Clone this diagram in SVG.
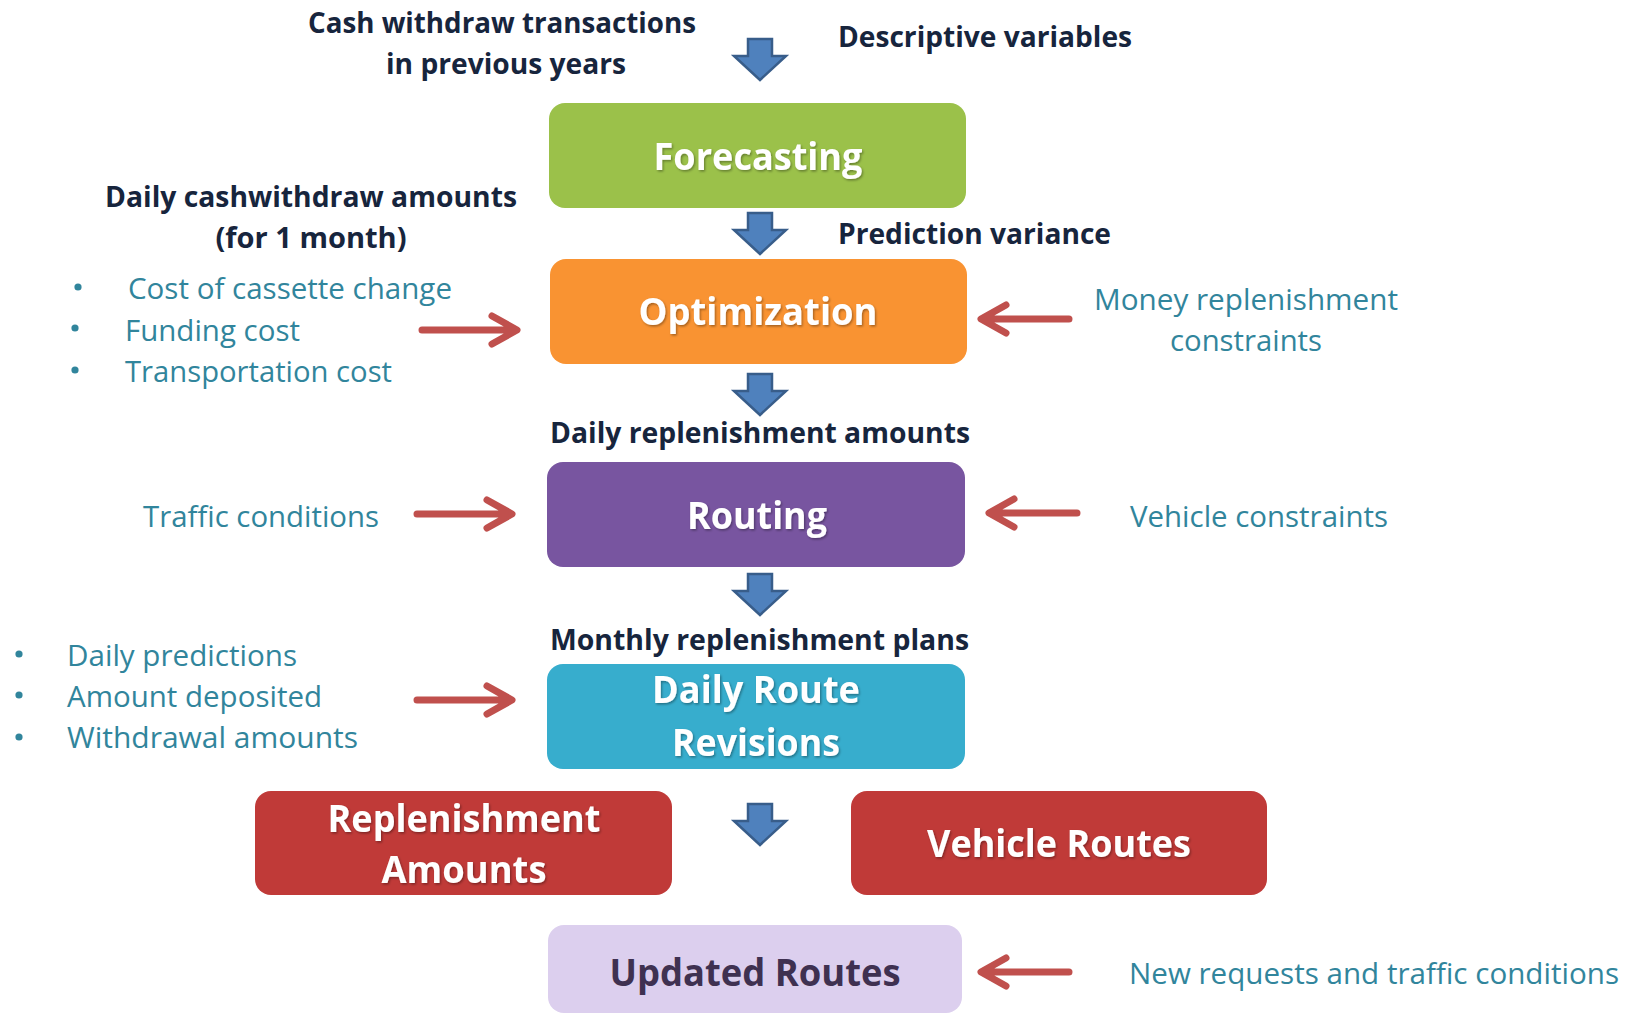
<svg xmlns="http://www.w3.org/2000/svg" width="1627" height="1015" viewBox="0 0 1627 1015">
  <defs>
    <filter id="txtShadow" x="-10%" y="-20%" width="120%" height="150%">
      <feDropShadow dx="1.2" dy="1.5" stdDeviation="0.8" flood-color="#000" flood-opacity="0.35"/>
    </filter>
    <path id="downArrow" d="M-12 0 H12 V17 H26 L0 41 L-26 17 H-12 Z"/>
  </defs>
  <style>
    .box { stroke: none; }
    .boxLabel { font-family: "Open Sans", "Liberation Sans", sans-serif; font-weight: 700; font-size: 38px; fill: #ffffff; text-anchor: middle; filter: url(#txtShadow); }
    .navy { font-family: "Open Sans", "Liberation Sans", sans-serif; font-weight: 700; font-size: 28px; fill: #17253d; }
    .teal { font-family: "Open Sans", "Liberation Sans", sans-serif; font-weight: 400; font-size: 28.5px; fill: #31859c; }
    .dot { fill: #31859c; }
    .blue { fill: #4f81bd; stroke: #385d8a; stroke-width: 2.5; stroke-linejoin: miter; }
    .red { fill: none; stroke: #c0504d; stroke-width: 7; stroke-linecap: round; stroke-linejoin: round; }
  </style>

  <rect width="1627" height="1015" fill="#ffffff"/>

  <!-- input and output annotations -->
  <g id="label-history">
    <text class="navy" x="502" y="33" text-anchor="middle" textLength="388" lengthAdjust="spacingAndGlyphs">Cash withdraw transactions</text>
    <text class="navy" x="506" y="74" text-anchor="middle" textLength="240" lengthAdjust="spacingAndGlyphs">in previous years</text>
  </g>
  <g id="label-descriptive">
    <text class="navy" x="838" y="47" textLength="294" lengthAdjust="spacingAndGlyphs">Descriptive variables</text>
  </g>
  <g id="label-daily-withdraw">
    <text class="navy" x="311" y="207" text-anchor="middle" textLength="412" lengthAdjust="spacingAndGlyphs">Daily cashwithdraw amounts</text>
    <text class="navy" x="311" y="248" text-anchor="middle" textLength="191" lengthAdjust="spacingAndGlyphs">(for 1 month)</text>
  </g>
  <g id="label-variance">
    <text class="navy" x="838" y="244" textLength="273" lengthAdjust="spacingAndGlyphs">Prediction variance</text>
  </g>
  <g id="label-costs">
    <circle class="dot" cx="78" cy="287" r="3.6"/>
    <circle class="dot" cx="75" cy="328" r="3.6"/>
    <circle class="dot" cx="75" cy="370" r="3.6"/>
    <text class="teal" x="128" y="299" textLength="324" lengthAdjust="spacingAndGlyphs">Cost of cassette change</text>
    <text class="teal" x="125" y="341" textLength="175" lengthAdjust="spacingAndGlyphs">Funding cost</text>
    <text class="teal" x="125" y="382" textLength="267" lengthAdjust="spacingAndGlyphs">Transportation cost</text>
  </g>
  <g id="label-money-constraints">
    <text class="teal" x="1246" y="310" text-anchor="middle" textLength="304" lengthAdjust="spacingAndGlyphs">Money replenishment</text>
    <text class="teal" x="1246" y="351" text-anchor="middle" textLength="152" lengthAdjust="spacingAndGlyphs">constraints</text>
  </g>
  <g id="label-daily-replenishment">
    <text class="navy" x="550" y="443" textLength="420" lengthAdjust="spacingAndGlyphs">Daily replenishment amounts</text>
  </g>
  <g id="label-traffic">
    <text class="teal" x="143" y="527" textLength="236" lengthAdjust="spacingAndGlyphs">Traffic conditions</text>
  </g>
  <g id="label-vehicle-constraints">
    <text class="teal" x="1130" y="527" textLength="258" lengthAdjust="spacingAndGlyphs">Vehicle constraints</text>
  </g>
  <g id="label-monthly-plans">
    <text class="navy" x="550" y="650" textLength="419" lengthAdjust="spacingAndGlyphs">Monthly replenishment plans</text>
  </g>
  <g id="label-revision-inputs">
    <circle class="dot" cx="19" cy="654" r="3.6"/>
    <circle class="dot" cx="19" cy="695" r="3.6"/>
    <circle class="dot" cx="19" cy="737" r="3.6"/>
    <text class="teal" x="67" y="666" textLength="230" lengthAdjust="spacingAndGlyphs">Daily predictions</text>
    <text class="teal" x="67" y="707" textLength="255" lengthAdjust="spacingAndGlyphs">Amount deposited</text>
    <text class="teal" x="67" y="748" textLength="291" lengthAdjust="spacingAndGlyphs">Withdrawal amounts</text>
  </g>
  <g id="label-new-requests">
    <text class="teal" x="1129" y="984" textLength="490" lengthAdjust="spacingAndGlyphs">New requests and traffic conditions</text>
  </g>

  <!-- process stages -->
  <g id="forecasting">
    <rect class="box" x="549" y="103" width="417" height="105" rx="16" fill="#9bc14a"/>
    <text class="boxLabel" x="758" y="170" textLength="209" lengthAdjust="spacingAndGlyphs">Forecasting</text>
  </g>
  <g id="optimization">
    <rect class="box" x="550" y="259" width="417" height="105" rx="16" fill="#f99332"/>
    <text class="boxLabel" x="758" y="325" textLength="239" lengthAdjust="spacingAndGlyphs">Optimization</text>
  </g>
  <g id="routing">
    <rect class="box" x="547" y="462" width="418" height="105" rx="16" fill="#7855a0"/>
    <text class="boxLabel" x="757" y="529" textLength="140" lengthAdjust="spacingAndGlyphs">Routing</text>
  </g>
  <g id="daily-route-revisions">
    <rect class="box" x="547" y="664" width="418" height="105" rx="16" fill="#37adcd"/>
    <text class="boxLabel" x="756" y="703" textLength="208" lengthAdjust="spacingAndGlyphs">Daily Route</text>
    <text class="boxLabel" x="756" y="756" textLength="168" lengthAdjust="spacingAndGlyphs">Revisions</text>
  </g>
  <g id="replenishment-amounts">
    <rect class="box" x="255" y="791" width="417" height="104" rx="16" fill="#c03a38"/>
    <text class="boxLabel" x="464" y="832" textLength="273" lengthAdjust="spacingAndGlyphs">Replenishment</text>
    <text class="boxLabel" x="464" y="883" textLength="165" lengthAdjust="spacingAndGlyphs">Amounts</text>
  </g>
  <g id="vehicle-routes">
    <rect class="box" x="851" y="791" width="416" height="104" rx="16" fill="#c03a38"/>
    <text class="boxLabel" x="1059" y="857" textLength="264" lengthAdjust="spacingAndGlyphs">Vehicle Routes</text>
  </g>
  <g id="updated-routes">
    <rect class="box" x="548" y="925" width="414" height="88" rx="16" fill="#dccfee"/>
    <text x="755" y="986" text-anchor="middle" textLength="291" lengthAdjust="spacingAndGlyphs" font-family="'Open Sans', 'Liberation Sans', sans-serif" font-weight="700" font-size="38" fill="#3f3151">Updated Routes</text>
  </g>

  <!-- flow arrows -->
  <g id="connectors">
    <use href="#downArrow" class="blue" x="760" y="39"/>
    <use href="#downArrow" class="blue" x="760" y="213"/>
    <use href="#downArrow" class="blue" x="760" y="374"/>
    <use href="#downArrow" class="blue" x="760" y="574"/>
    <use href="#downArrow" class="blue" x="760" y="804"/>

    <path class="red" d="M422 330 H514 M492 316 L517 330 L492 344"/>
    <path class="red" d="M1069 319 H985 M1006 305 L981 319 L1006 333"/>
    <path class="red" d="M417 514 H508 M487 500 L512 514 L487 528"/>
    <path class="red" d="M1077 513 H993 M1014 499 L989 513 L1014 527"/>
    <path class="red" d="M417 700 H508 M487 686 L512 700 L487 714"/>
    <path class="red" d="M1069 972 H985 M1006 958 L981 972 L1006 986"/>
  </g>
</svg>
